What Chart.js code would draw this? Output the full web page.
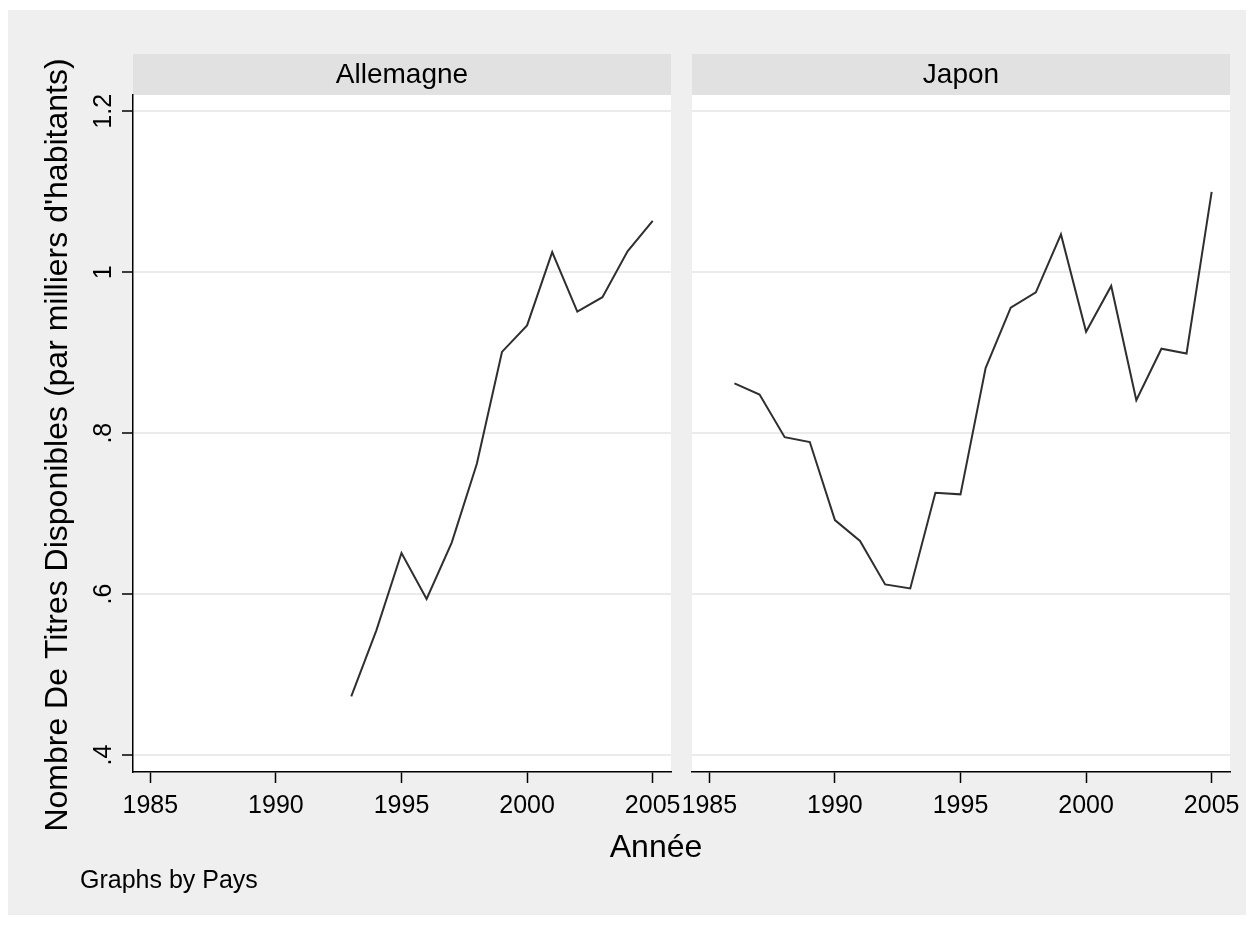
<!DOCTYPE html>
<html lang="fr">
<head>
<meta charset="utf-8">
<title>Nombre de titres disponibles - Allemagne / Japon</title>
<script src="https://cdn.jsdelivr.net/npm/chart.js@4.4.0/dist/chart.umd.min.js"></script>
<style>
  html, body { margin: 0; padding: 0; background: #ffffff; }
  #page { position: relative; width: 1254px; height: 925px; overflow: hidden; }
  #fond { position: absolute; left: 8px; top: 10px; width: 1238px; height: 905px; background: #efefef; }
  canvas { position: absolute; left: 0; top: 0; }
</style>
</head>
<body>
<div id="page">
  <div id="fond"></div>
  <canvas id="chartAllemagne" width="1254" height="925"></canvas>
  <canvas id="chartJapon" width="1254" height="925"></canvas>
</div>
<script>
// données
const anneesAllemagne = [1993, 1994, 1995, 1996, 1997, 1998, 1999, 2000, 2001, 2002, 2003, 2004, 2005];
const valeursAllemagne = [0.473, 0.555, 0.651, 0.594, 0.664, 0.762, 0.901, 0.934, 1.025, 0.951, 0.969, 1.026, 1.064];

const anneesJapon = [1986, 1987, 1988, 1989, 1990, 1991, 1992, 1993, 1994, 1995,
                     1996, 1997, 1998, 1999, 2000, 2001, 2002, 2003, 2004, 2005];
const valeursJapon = [0.862, 0.848, 0.795, 0.789, 0.692, 0.666, 0.612, 0.607, 0.726, 0.724,
                      0.881, 0.956, 0.975, 1.047, 0.926, 0.983, 0.841, 0.905, 0.899, 1.100];

const xTicks = [1985, 1990, 1995, 2000, 2005];
const yTicks = [0.4, 0.6, 0.8, 1.0, 1.2];
const yTickLabels = ['.4', '.6', '.8', '1', '1.2'];

const titreY = "Nombre De Titres Disponibles (par milliers d'habitants)";
const titreX = 'Année';
const note = 'Graphs by Pays';

const police = '"Liberation Sans", Arial, Helvetica, sans-serif';

const facette = {
  id: 'facette',
  beforeDraw(chart, args, opts) {
    const { ctx, chartArea: a } = chart;
    ctx.save();
    ctx.fillStyle = '#ffffff';
    ctx.fillRect(a.left, a.top, a.right - a.left, a.bottom - a.top);
    ctx.fillStyle = '#e1e1e1';
    ctx.fillRect(a.left, 54, a.right - a.left, a.top - 54);
    ctx.fillStyle = '#000000';
    ctx.font = `28px ${police}`;
    ctx.textAlign = 'center';
    ctx.textBaseline = 'middle';
    ctx.fillText(opts.titre, (a.left + a.right) / 2, (54 + a.top) / 2 + 1);
    ctx.restore();
  },
  afterDraw(chart, args, opts) {
    const { ctx, chartArea: a, scales } = chart;
    ctx.save();
    ctx.fillStyle = '#000000';
    ctx.font = `25px ${police}`;
    ctx.textAlign = 'center';
    ctx.textBaseline = 'alphabetic';
    xTicks.forEach(v => ctx.fillText(String(v), scales.x.getPixelForValue(v), a.bottom + 41));

    if (opts.axeY) {
      yTicks.forEach((v, i) => {
        ctx.save();
        ctx.translate(a.left - 22, scales.y.getPixelForValue(v));
        ctx.rotate(-Math.PI / 2);
        ctx.fillText(yTickLabels[i], 0, 0);
        ctx.restore();
      });

      // titres communs aux deux facettes
      ctx.font = `32px ${police}`;
      ctx.save();
      ctx.translate(67, 445);
      ctx.rotate(-Math.PI / 2);
      ctx.fillText(titreY, 0, 0);
      ctx.restore();
      ctx.fillText(titreX, 656, 857);

      ctx.font = `25px ${police}`;
      ctx.textAlign = 'left';
      ctx.fillText(note, 80, 888);
    }
    ctx.restore();
  }
};

function creerFacette(id, titre, annees, valeurs, axeY, gauche, droite) {
  const ctx = document.getElementById(id).getContext('2d');
  return new Chart(ctx, {
    type: 'line',
    data: {
      datasets: [{
        data: annees.map((an, i) => ({ x: an, y: valeurs[i] })),
        borderColor: '#2f2f2f',
        borderWidth: 2,
        borderJoinStyle: 'miter',
        pointRadius: 0,
        tension: 0,
        fill: false
      }]
    },
    options: {
      responsive: false,
      animation: false,
      devicePixelRatio: 1,
      layout: { padding: { left: gauche - (axeY ? 11 : 0), top: 95, right: 1254 - droite, bottom: 925 - 783 } },
      plugins: {
        legend: { display: false },
        tooltip: { enabled: false },
        facette: { titre, axeY }
      },
      scales: {
        x: {
          type: 'linear',
          min: 1984.31,
          max: 2005.73,
          afterBuildTicks: s => { s.ticks = xTicks.map(v => ({ value: v })); },
          afterFit: s => { s.height = 11; },
          ticks: { display: false },
          grid: { drawOnChartArea: false, drawTicks: true, tickLength: 11, tickColor: '#000000', tickWidth: 1.5 },
          border: { display: true, color: '#000000', width: 1.5 }
        },
        y: {
          type: 'linear',
          min: 0.3789,
          max: 1.2203,
          afterBuildTicks: s => { s.ticks = yTicks.map(v => ({ value: v })); },
          afterFit: s => { s.width = axeY ? 11 : 0; },
          ticks: { display: false },
          grid: {
            color: '#ebebeb',
            lineWidth: 2,
            drawTicks: axeY,
            tickLength: 11,
            tickColor: '#000000',
            tickWidth: 1.5
          },
          border: { display: axeY, color: '#000000', width: 1.5 }
        }
      }
    },
    plugins: [facette]
  });
}

creerFacette('chartAllemagne', 'Allemagne', anneesAllemagne, valeursAllemagne, true, 133, 671);
creerFacette('chartJapon', 'Japon', anneesJapon, valeursJapon, false, 692, 1230);
</script>
</body>
</html>
